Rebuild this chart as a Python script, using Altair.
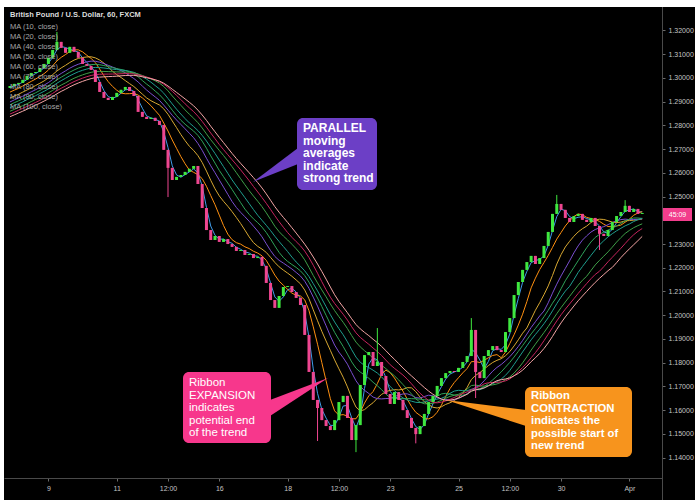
import altair as alt
import pandas as pd

# ---------------- data (3-hour bars) ----------------
BAR_HOURS = 3
FIRST_HOUR = -27          # trading hours relative to Mar 9 00:00

warmup_close = [1.2712, 1.2725, 1.2718, 1.2734, 1.2741, 1.2730, 1.2752, 1.2768, 1.2760,
                1.2779, 1.2786, 1.2774, 1.2795, 1.2810, 1.2802, 1.2821, 1.2835, 1.2828,
                1.2846, 1.2858, 1.2849, 1.2866, 1.2880, 1.2874, 1.2893, 1.2905, 1.2898,
                1.2917, 1.2928, 1.2921, 1.2940, 1.2952, 1.2958]

close = [1.2966, 1.2975, 1.2979, 1.2992, 1.3009, 1.3021, 1.3025, 1.3042, 1.3059, 1.3085,
         1.3118, 1.3152, 1.3127, 1.3106, 1.3131, 1.3110, 1.3085, 1.3059, 1.3051, 1.3034,
         1.2983, 1.2941, 1.2916, 1.2907, 1.2920, 1.2937, 1.2950, 1.2962, 1.2945, 1.2924,
         1.2857, 1.2836, 1.2827, 1.2832, 1.2819, 1.2802, 1.2697, 1.2621, 1.2570, 1.2583,
         1.2591, 1.2604, 1.2617, 1.2629, 1.2553, 1.2452, 1.2359, 1.2317, 1.2334, 1.2309,
         1.2321, 1.2300, 1.2288, 1.2271, 1.2275, 1.2254, 1.2258, 1.2241, 1.2246, 1.2208,
         1.2136, 1.2064, 1.2031, 1.2081, 1.2119, 1.2123, 1.2098, 1.2073, 1.2043, 1.1917,
         1.1761, 1.1643, 1.1609, 1.1558, 1.1533, 1.1516, 1.1558, 1.1634, 1.1660, 1.1567,
         1.1474, 1.1537, 1.1706, 1.1832, 1.1845, 1.1786, 1.1803, 1.1744, 1.1668, 1.1626,
         1.1676, 1.1643, 1.1600, 1.1567, 1.1525, 1.1499, 1.1533, 1.1584, 1.1634, 1.1660,
         1.1702, 1.1735, 1.1756, 1.1765, 1.1761, 1.1778, 1.1803, 1.1828, 1.1938, 1.1761,
         1.1735, 1.1828, 1.1853, 1.1870, 1.1853, 1.1845, 1.1929, 1.1988, 1.2085, 1.2140,
         1.2191, 1.2224, 1.2250, 1.2216, 1.2241, 1.2292, 1.2351, 1.2427, 1.2469, 1.2444,
         1.2410, 1.2393, 1.2418, 1.2427, 1.2402, 1.2393, 1.2410, 1.2376, 1.2343, 1.2334,
         1.2359, 1.2393, 1.2418, 1.2435, 1.2461, 1.2435, 1.2448, 1.2427, 1.2431]

# long wicks (bar index, low, high); None = no wick beyond the body
spikes = [(11, None, 1.3194), (37, 1.2498, None), (72, 1.1470, None), (81, 1.1423, None),
          (86, None, 1.1946), (95, 1.1460, None), (108, None, 1.1988), (109, 1.1651, None),
          (128, None, 1.2507), (138, 1.2275, None), (144, None, 1.2485)]

ma_periods = [10, 20, 40, 50, 60, 70, 80, 90, 100]
ma_colors = ["#3f9be8", "#ff9010", "#d8a832", "#7a4fd0", "#2fa35a",
             "#1f9e8e", "#3f9f48", "#c8245e", "#f4a5a5"]

tick_hours = [0, 48, 84, 120, 168, 204, 240, 288, 324, 360, 408]
tick_labels = ["9", "11", "12:00", "16", "18", "12:00", "23", "25", "12:00", "30", "Apr"]
price_ticks = [1.14, 1.15, 1.16, 1.17, 1.18, 1.19, 1.20, 1.21, 1.22, 1.23,
               1.25, 1.26, 1.27, 1.28, 1.29, 1.30, 1.31, 1.32]

legend_title = "British Pound / U.S. Dollar, 60, FXCM"
legend_lines = [f"MA ({p}, close)" for p in ma_periods]
countdown = "45:09"

# ---------------- table ----------------
all_close = warmup_close + close
nw = len(warmup_close)
rows = []
for k, c in enumerate(all_close):
    o = all_close[k - 1] if k > 0 else c
    rows.append({"t": FIRST_HOUR + BAR_HOURS * (k - nw), "open": o, "close": c,
                 "low": min(o, c), "high": max(o, c)})
for i, lo, hi in spikes:
    r = rows[i + nw]
    if lo is not None:
        r["low"] = min(r["low"], lo)
    if hi is not None:
        r["high"] = max(r["high"], hi)
df_all = pd.DataFrame(rows)
df_vis = df_all[df_all["t"] >= FIRST_HOUR].reset_index(drop=True)
one = pd.DataFrame({"a": [0]})

# ---------------- scales / axes ----------------
FONT = "Liberation Sans"
label_expr = " : ".join(
    f"datum.value == {h} ? '{l}'" for h, l in zip(tick_hours, tick_labels)) + " : ''"
xscale = alt.Scale(domain=[-27.66, 427.38], nice=False, zero=False)
yscale = alt.Scale(domain=[1.1314, 1.3299], nice=False, zero=False)
xaxis = alt.Axis(values=tick_hours, labelExpr=label_expr, title=None, grid=False,
                 domainColor="#4a4a4a", tickColor="#6a6a6a", tickSize=3, labelPadding=3,
                 labelColor="#c4c4c4", labelFont=FONT, labelFontSize=7, zindex=1,
                 labelFlush=False)
yaxis = alt.Axis(orient="right", values=price_ticks, format=".5f", title=None, grid=False,
                 domainColor="#4a4a4a", tickColor="#6a6a6a", tickSize=3, labelPadding=3,
                 labelColor="#c4c4c4", labelFont=FONT, labelFontSize=7, zindex=1)


def X(field):
    return alt.X(f"{field}:Q", scale=xscale, axis=xaxis)


def Y(field):
    return alt.Y(f"{field}:Q", scale=yscale, axis=yaxis)


GREEN = "#3fe83f"
PINK = "#ee4690"
updown = alt.condition("datum.close >= datum.open", alt.value(GREEN), alt.value(PINK))

# ---------------- layers ----------------
bg = alt.Chart(one).mark_rect(color="#000000").encode(
    x=alt.value(0), x2=alt.value(691), y=alt.value(0), y2=alt.value(493))
sep = alt.Chart(one).mark_rule(color="#4a4a4a", strokeWidth=1).encode(
    x=alt.value(658.5), y=alt.value(0), y2=alt.value(493))

ma_names = [f"MA{p}" for p in ma_periods]
ma = alt.Chart(df_all)
for p, name in zip(ma_periods, ma_names):
    n = round(p / BAR_HOURS)
    ma = ma.transform_window(**{name: "mean(close)"}, frame=[-(n - 1), 0],
                             sort=[alt.SortField("t", order="ascending")])
ma = ma.transform_filter(alt.datum.t >= FIRST_HOUR).transform_fold(
    ma_names, as_=["ma", "value"]
).mark_line(strokeWidth=1, clip=True).encode(
    x=X("t"), y=Y("value"),
    color=alt.Color("ma:N", scale=alt.Scale(domain=ma_names, range=ma_colors), legend=None),
    order=alt.Order("t:Q"))

wicks = alt.Chart(df_vis).mark_rule(strokeWidth=1).encode(
    x=X("t"), y=Y("low"), y2="high", color=updown)
bodies = alt.Chart(df_vis).mark_bar(size=3).encode(
    x=X("t"), y=Y("open"), y2="close", color=updown)


def box(x0, y0, x1, y1, color):
    return alt.Chart(one).mark_rect(color=color, cornerRadius=6).encode(
        x=alt.value(x0), x2=alt.value(x1), y=alt.value(y0), y2=alt.value(y1))


def wedge(path, color):
    return alt.Chart(one).mark_point(shape=path, size=4, filled=True, color=color,
                                     opacity=1, strokeWidth=0).encode(
        x=alt.value(0), y=alt.value(0))


def label(lines, x, y, bold, size=11.5):
    return alt.Chart(one).mark_text(text=lines, align="left", baseline="top",
                                    lineHeight=12.5, font=FONT, fontSize=size,
                                    fontWeight="bold" if bold else "normal",
                                    color="#ffffff").encode(x=alt.value(x), y=alt.value(y))


PURPLE = "#6c3fc6"
HOTPINK = "#f7378c"
ORANGE = "#f7941d"

annots = [
    wedge("M249,175L294,141L294,157Z", PURPLE),
    box(293, 111, 373, 183, PURPLE),
    label(["PARALLEL", "moving", "averages", "indicate", "strong trend"], 299, 116, True, 12),
    wedge("M324,371L266,393L266,409Z", HOTPINK),
    box(179, 365, 267, 436, HOTPINK),
    label(["Ribbon", "EXPANSION", "indicates", "potential end", "of the trend"], 185, 370, False),
    wedge("M442,393L522,403L522,419Z", ORANGE),
    box(521, 380, 628, 450, ORANGE),
    label(["Ribbon", "CONTRACTION", "indicates the", "possible start of", "new trend"],
          527, 383, True, 11.3),
]

legend = [
    alt.Chart(one).mark_text(text=legend_title, align="left", baseline="middle", font=FONT,
                             fontSize=7.5, fontWeight="bold", color="#dcdcdc").encode(
        x=alt.value(6), y=alt.value(8)),
    alt.Chart(one).mark_text(text=legend_lines, align="left", baseline="middle", font=FONT,
                             fontSize=7.5, lineHeight=10, color="#a8a8a8").encode(
        x=alt.value(6), y=alt.value(20)),
]

tag = [
    alt.Chart(one).mark_rect(color="#f23d8c").encode(
        x=alt.value(659), x2=alt.value(688), y=alt.value(201), y2=alt.value(214)),
    alt.Chart(one).mark_text(text=countdown, align="center", baseline="middle", font=FONT,
                             fontSize=7, color="#ffffff").encode(
        x=alt.value(673.5), y=alt.value(207.5)),
]

chart = alt.layer(bg, sep, ma, wicks, bodies, *annots, *legend, *tag).properties(
    width=658, height=471,
    padding={"left": 4, "top": 7, "right": 36, "bottom": 22},
    autosize=alt.AutoSizeParams(type="none"),
    background="#ffffff",
).configure_view(stroke=None)

chart.save("out.html", embed_options={"renderer": "svg", "actions": False})
